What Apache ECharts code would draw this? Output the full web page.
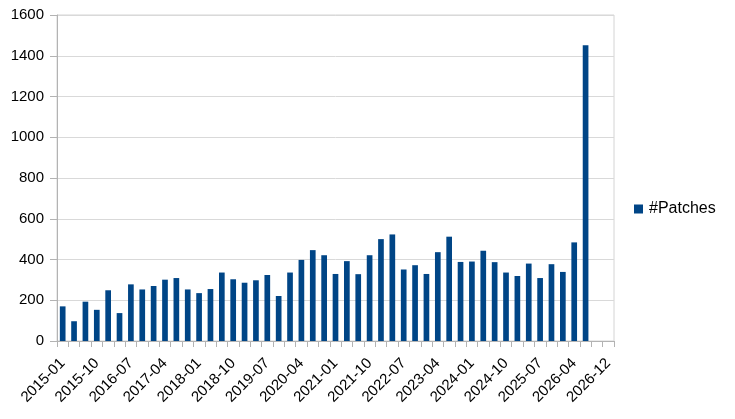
<!DOCTYPE html>
<html>
<head>
<meta charset="utf-8">
<script src="https://cdn.jsdelivr.net/npm/echarts@6/dist/echarts.min.js"></script>
<style>
  html, body { margin: 0; padding: 0; background: #fff; }
  #chart { width: 735px; height: 419px; }
</style>
</head>
<body>
<div id="chart"></div>
<script>
const quarters = [
  "2015-01", "2015-04", "2015-07", "2015-10",
  "2016-01", "2016-04", "2016-07", "2016-10",
  "2017-01", "2017-04", "2017-07", "2017-10",
  "2018-01", "2018-04", "2018-07", "2018-10",
  "2019-01", "2019-04", "2019-07", "2019-10",
  "2020-01", "2020-04", "2020-07", "2020-10",
  "2021-01", "2021-04", "2021-07", "2021-10",
  "2022-01", "2022-04", "2022-07", "2022-10",
  "2023-01", "2023-04", "2023-07", "2023-10",
  "2024-01", "2024-04", "2024-07", "2024-10",
  "2025-01", "2025-04", "2025-07", "2025-10",
  "2026-01", "2026-04", "2026-07", "2026-10",
  "2026-12"
];

const patches = [
  170, 97, 193, 153,
  249, 137, 278, 253,
  270, 301, 309, 253,
  235, 255, 336, 303,
  286, 298, 324, 221,
  336, 398, 446, 421,
  329, 392, 328, 421,
  500, 523, 351, 372,
  329, 436, 512, 388,
  390, 443, 387, 336,
  319, 380, 309, 377,
  339, 484, 1452, null,
  null
];

const yTicks = { min: 0, max: 1600, step: 200 };

const chart = echarts.init(document.getElementById("chart"));
const font = "Liberation Sans";

chart.setOption({
  animation: false,
  textStyle: { fontFamily: font },
  grid: {
    left: 57, top: 15, right: 121, bottom: 78,
    show: true, borderColor: "#d4d4d4", borderWidth: 1
  },
  legend: {
    orient: "vertical",
    left: 629, top: 196,
    icon: "rect", itemWidth: 9, itemHeight: 9, itemGap: 6,
    textStyle: { fontFamily: font, fontSize: 16, color: "#000", padding: [0, 0, 0, 1] },
    data: ["#Patches"]
  },
  xAxis: {
    type: "category",
    data: quarters,
    boundaryGap: true,
    axisLine: { lineStyle: { color: "#b3b3b3" } },
    axisTick: { show: true, interval: 0, length: 6, lineStyle: { color: "#b3b3b3" } },
    axisLabel: {
      interval: 2, rotate: 45, fontSize: 15, color: "#000",
      fontFamily: font, margin: 20
    },
    splitLine: { show: false }
  },
  yAxis: {
    type: "value",
    min: yTicks.min, max: yTicks.max, interval: yTicks.step,
    axisLine: { show: true, lineStyle: { color: "#b3b3b3" } },
    axisTick: { show: true, length: 7, lineStyle: { color: "#b3b3b3" } },
    axisLabel: {
      fontSize: 15, color: "#000", fontFamily: font, margin: 13,
      formatter: v => String(v)
    },
    splitLine: { lineStyle: { color: "#d9d9d9" } }
  },
  series: [{
    name: "#Patches",
    type: "bar",
    data: patches,
    barWidth: "50%",
    itemStyle: { color: "#004586" }
  }]
});
</script>
</body>
</html>
